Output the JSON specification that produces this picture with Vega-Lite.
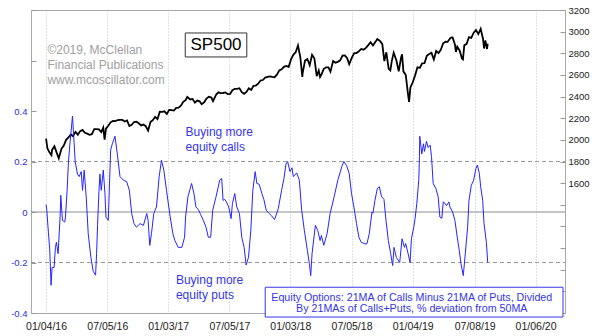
{
  "$schema": "https://vega.github.io/schema/vega-lite/v6.json",
  "width": 534,
  "height": 303,
  "autosize": "none",
  "padding": {"left": 31, "top": 10, "right": 35, "bottom": 23},
  "background": "white",
  "config": {
    "view": {"stroke": "#a8a8a8", "strokeWidth": 1},
    "font": "Liberation Sans",
    "axis": {"labelFont": "Liberation Sans", "titleFont": "Liberation Sans"}
  },
  "encoding": {
    "x": {
      "field": "d",
      "type": "temporal",
      "scale": {"type": "utc", "domain": [{"year": 2015, "month": 11, "date": 20, "utc": true}, {"year": 2020, "month": 4, "date": 3, "utc": true}], "nice": false},
      "axis": {
        "title": null,
        "values": [
          {"year": 2016, "month": 1, "date": 4, "utc": true},
          {"year": 2016, "month": 7, "date": 5, "utc": true},
          {"year": 2017, "month": 1, "date": 3, "utc": true},
          {"year": 2017, "month": 7, "date": 5, "utc": true},
          {"year": 2018, "month": 1, "date": 3, "utc": true},
          {"year": 2018, "month": 7, "date": 5, "utc": true},
          {"year": 2019, "month": 1, "date": 4, "utc": true},
          {"year": 2019, "month": 7, "date": 8, "utc": true},
          {"year": 2020, "month": 1, "date": 6, "utc": true}
        ],
        "format": "%m/%d/%y",
        "grid": true,
        "gridDash": [1, 2],
        "gridColor": "#c4c4c4",
        "ticks": false,
        "domain": false,
        "labelFontSize": 10.5,
        "labelColor": "#1a1a1a",
        "labelPadding": 8,
        "labelFlush": false
      }
    }
  },
  "layer": [
    {
      "data": {"values": [
        {"d":"2016-01-04","s":2012},{"d":"2016-01-08","s":1922},{"d":"2016-01-15","s":1880},{"d":"2016-01-20","s":1859},{"d":"2016-01-22","s":1907},{"d":"2016-01-29","s":1940},{"d":"2016-02-05","s":1880},{"d":"2016-02-11","s":1829},{"d":"2016-02-19","s":1917},{"d":"2016-02-26","s":1948},{"d":"2016-03-04","s":2000},{"d":"2016-03-11","s":2022},{"d":"2016-03-18","s":2050},{"d":"2016-03-24","s":2035},{"d":"2016-04-01","s":2073},{"d":"2016-04-08","s":2048},{"d":"2016-04-15","s":2081},{"d":"2016-04-22","s":2092},{"d":"2016-04-29","s":2065},{"d":"2016-05-06","s":2057},{"d":"2016-05-13","s":2047},{"d":"2016-05-20","s":2052},{"d":"2016-05-27","s":2099},{"d":"2016-06-03","s":2099},{"d":"2016-06-10","s":2096},{"d":"2016-06-17","s":2071},{"d":"2016-06-23","s":2113},{"d":"2016-06-27","s":2001},{"d":"2016-07-01","s":2103},{"d":"2016-07-08","s":2130},{"d":"2016-07-15","s":2162},{"d":"2016-07-22","s":2175},{"d":"2016-07-29","s":2173},{"d":"2016-08-05","s":2183},{"d":"2016-08-12","s":2184},{"d":"2016-08-19","s":2184},{"d":"2016-08-26","s":2169},{"d":"2016-09-02","s":2180},{"d":"2016-09-09","s":2128},{"d":"2016-09-16","s":2139},{"d":"2016-09-23","s":2165},{"d":"2016-09-30","s":2168},{"d":"2016-10-07","s":2153},{"d":"2016-10-14","s":2133},{"d":"2016-10-21","s":2141},{"d":"2016-10-28","s":2126},{"d":"2016-11-04","s":2085},{"d":"2016-11-11","s":2164},{"d":"2016-11-18","s":2182},{"d":"2016-11-25","s":2213},{"d":"2016-12-02","s":2192},{"d":"2016-12-09","s":2260},{"d":"2016-12-16","s":2258},{"d":"2016-12-23","s":2264},{"d":"2016-12-30","s":2239},
        {"d":"2017-01-06","s":2277},{"d":"2017-01-13","s":2275},{"d":"2017-01-20","s":2271},{"d":"2017-01-27","s":2295},{"d":"2017-02-03","s":2297},{"d":"2017-02-10","s":2316},{"d":"2017-02-17","s":2351},{"d":"2017-02-24","s":2367},{"d":"2017-03-01","s":2396},{"d":"2017-03-10","s":2373},{"d":"2017-03-17","s":2378},{"d":"2017-03-24","s":2344},{"d":"2017-03-31","s":2363},{"d":"2017-04-07","s":2356},{"d":"2017-04-13","s":2329},{"d":"2017-04-21","s":2349},{"d":"2017-04-28","s":2384},{"d":"2017-05-05","s":2399},{"d":"2017-05-12","s":2391},{"d":"2017-05-17","s":2357},{"d":"2017-05-26","s":2416},{"d":"2017-06-02","s":2439},{"d":"2017-06-09","s":2432},{"d":"2017-06-16","s":2433},{"d":"2017-06-23","s":2438},{"d":"2017-06-30","s":2423},{"d":"2017-07-07","s":2425},{"d":"2017-07-14","s":2459},{"d":"2017-07-21","s":2472},{"d":"2017-07-28","s":2472},{"d":"2017-08-04","s":2477},{"d":"2017-08-11","s":2441},{"d":"2017-08-18","s":2426},{"d":"2017-08-25","s":2443},{"d":"2017-09-01","s":2477},{"d":"2017-09-08","s":2461},{"d":"2017-09-15","s":2500},{"d":"2017-09-22","s":2502},{"d":"2017-09-29","s":2519},{"d":"2017-10-06","s":2549},{"d":"2017-10-13","s":2553},{"d":"2017-10-20","s":2575},{"d":"2017-10-27","s":2581},{"d":"2017-11-03","s":2587},{"d":"2017-11-10","s":2582},{"d":"2017-11-17","s":2579},{"d":"2017-11-24","s":2602},{"d":"2017-12-01","s":2642},{"d":"2017-12-08","s":2652},{"d":"2017-12-15","s":2675},{"d":"2017-12-22","s":2683},{"d":"2017-12-29","s":2674},
        {"d":"2018-01-05","s":2743},{"d":"2018-01-12","s":2786},{"d":"2018-01-19","s":2810},{"d":"2018-01-26","s":2873},{"d":"2018-02-02","s":2762},{"d":"2018-02-08","s":2581},{"d":"2018-02-09","s":2620},{"d":"2018-02-16","s":2732},{"d":"2018-02-23","s":2747},{"d":"2018-03-02","s":2691},{"d":"2018-03-09","s":2786},{"d":"2018-03-16","s":2752},{"d":"2018-03-23","s":2588},{"d":"2018-03-29","s":2641},{"d":"2018-04-02","s":2582},{"d":"2018-04-06","s":2604},{"d":"2018-04-13","s":2656},{"d":"2018-04-20","s":2670},{"d":"2018-04-27","s":2670},{"d":"2018-05-03","s":2630},{"d":"2018-05-11","s":2728},{"d":"2018-05-18","s":2713},{"d":"2018-05-25","s":2721},{"d":"2018-06-01","s":2735},{"d":"2018-06-08","s":2779},{"d":"2018-06-15","s":2780},{"d":"2018-06-22","s":2755},{"d":"2018-06-28","s":2699},{"d":"2018-07-06","s":2760},{"d":"2018-07-13","s":2801},{"d":"2018-07-20","s":2802},{"d":"2018-07-27","s":2819},{"d":"2018-08-03","s":2840},{"d":"2018-08-10","s":2833},{"d":"2018-08-17","s":2850},{"d":"2018-08-24","s":2875},{"d":"2018-08-31","s":2902},{"d":"2018-09-07","s":2872},{"d":"2018-09-14","s":2905},{"d":"2018-09-20","s":2931},{"d":"2018-09-28","s":2914},{"d":"2018-10-05","s":2885},{"d":"2018-10-11","s":2728},{"d":"2018-10-17","s":2809},{"d":"2018-10-24","s":2656},{"d":"2018-10-29","s":2641},{"d":"2018-11-02","s":2723},{"d":"2018-11-08","s":2806},{"d":"2018-11-16","s":2736},{"d":"2018-11-23","s":2633},{"d":"2018-11-30","s":2760},{"d":"2018-12-03","s":2790},{"d":"2018-12-07","s":2633},{"d":"2018-12-14","s":2600},{"d":"2018-12-21","s":2417},{"d":"2018-12-24","s":2351},{"d":"2018-12-28","s":2486},
        {"d":"2019-01-04","s":2532},{"d":"2019-01-11","s":2596},{"d":"2019-01-18","s":2671},{"d":"2019-01-25","s":2665},{"d":"2019-02-01","s":2707},{"d":"2019-02-08","s":2708},{"d":"2019-02-15","s":2776},{"d":"2019-02-22","s":2793},{"d":"2019-03-01","s":2804},{"d":"2019-03-08","s":2743},{"d":"2019-03-15","s":2822},{"d":"2019-03-22","s":2801},{"d":"2019-03-29","s":2834},{"d":"2019-04-05","s":2893},{"d":"2019-04-12","s":2907},{"d":"2019-04-18","s":2905},{"d":"2019-04-26","s":2940},{"d":"2019-04-30","s":2946},{"d":"2019-05-03","s":2946},{"d":"2019-05-10","s":2881},{"d":"2019-05-13","s":2812},{"d":"2019-05-17","s":2860},{"d":"2019-05-24","s":2826},{"d":"2019-05-31","s":2752},{"d":"2019-06-03","s":2744},{"d":"2019-06-07","s":2873},{"d":"2019-06-14","s":2887},{"d":"2019-06-21","s":2950},{"d":"2019-06-28","s":2942},{"d":"2019-07-05","s":2990},{"d":"2019-07-12","s":3014},{"d":"2019-07-19","s":2977},{"d":"2019-07-26","s":3026},{"d":"2019-08-02","s":2932},{"d":"2019-08-05","s":2844},{"d":"2019-08-09","s":2919},{"d":"2019-08-14","s":2840},{"d":"2019-08-16","s":2889}
      ]},
      "mark": {"type": "line", "color": "#000000", "strokeWidth": 1.8},
      "encoding": {
        "y": {
          "field": "s",
          "type": "quantitative",
          "scale": {"domain": [400, 3200], "nice": false, "zero": false},
          "axis": {
            "orient": "right",
            "title": null,
            "values": [400, 600, 800, 1000, 1200, 1400, 1600, 1800, 2000, 2200, 2400, 2600, 2800, 3000, 3200],
            "format": "d",
            "labelExpr": "datum.value >= 1600 ? datum.label : ''",
            "grid": false,
            "domain": false,
            "tickSize": -5,
            "tickColor": "#999999",
            "labelFontSize": 9.5,
            "labelColor": "#1a1a1a",
            "labelPadding": 8
          }
        }
      }
    },
    {
      "encoding": {
        "y": {
          "field": "v",
          "type": "quantitative",
          "scale": {"domain": [-0.4, 0.8], "nice": false, "zero": false},
          "axis": {
            "orient": "left",
            "title": null,
            "values": [-0.4, -0.2, 0, 0.2, 0.4, 0.6, 0.8],
            "labelExpr": "datum.value > 0.45 ? '' : (abs(datum.value) < 0.01 ? '0' : (datum.value < 0 ? '-' : '') + format(abs(datum.value), '.1f'))",
            "grid": false,
            "domain": false,
            "tickSize": -5,
            "tickColor": "#999999",
            "labelFontSize": 9.5,
            "labelColor": "#2b2bdd",
            "labelPadding": 9
          }
        }
      },
      "layer": [
        {
          "data": {"values": [{"d":"2015-11-20","d2":"2020-04-03","v":0.2},{"d":"2015-11-20","d2":"2020-04-03","v":-0.2}]},
          "mark": {"type": "rule", "color": "#9a9a9a", "strokeDash": [4, 3], "strokeWidth": 1},
          "encoding": {"x2": {"field": "d2"}}
        },
        {
          "data": {"values": [{"d":"2015-11-20","d2":"2020-04-03","v":0}]},
          "mark": {"type": "rule", "color": "#8c8c8c", "strokeWidth": 1},
          "encoding": {"x2": {"field": "d2"}}
        },
        {
          "data": {"values": [
            {"d":"2016-01-04","v":0.03},{"d":"2016-01-06","v":0.01},{"d":"2016-01-11","v":-0.08},{"d":"2016-01-15","v":-0.15},{"d":"2016-01-19","v":-0.29},{"d":"2016-01-22","v":-0.22},{"d":"2016-01-28","v":-0.22},{"d":"2016-02-01","v":-0.14},{"d":"2016-02-04","v":-0.12},{"d":"2016-02-09","v":-0.165},{"d":"2016-02-15","v":-0.02},{"d":"2016-02-17","v":0.066},{"d":"2016-02-22","v":-0.033},{"d":"2016-02-29","v":-0.04},{"d":"2016-03-02","v":-0.02},{"d":"2016-03-07","v":0.086},{"d":"2016-03-11","v":0.2},{"d":"2016-03-16","v":0.28},{"d":"2016-03-23","v":0.38},{"d":"2016-03-28","v":0.27},{"d":"2016-03-31","v":0.2},{"d":"2016-04-07","v":0.15},{"d":"2016-04-12","v":0.14},{"d":"2016-04-18","v":0.16},{"d":"2016-04-22","v":0.086},{"d":"2016-04-27","v":0.166},{"d":"2016-05-03","v":0.06},{"d":"2016-05-09","v":-0.085},{"d":"2016-05-17","v":-0.18},{"d":"2016-05-24","v":-0.235},{"d":"2016-05-31","v":-0.25},{"d":"2016-06-03","v":-0.165},{"d":"2016-06-06","v":-0.05},{"d":"2016-06-10","v":0.08},{"d":"2016-06-13","v":0.15},{"d":"2016-06-17","v":0.086},{"d":"2016-06-23","v":0.166},{"d":"2016-06-28","v":0.074},{"d":"2016-07-01","v":-0.02},{"d":"2016-07-08","v":-0.033},{"d":"2016-07-15","v":0.245},{"d":"2016-07-20","v":0.27},{"d":"2016-07-28","v":0.3},{"d":"2016-08-04","v":0.23},{"d":"2016-08-12","v":0.14},{"d":"2016-08-22","v":0.126},{"d":"2016-09-01","v":0.12},{"d":"2016-09-09","v":0.086},{"d":"2016-09-16","v":-0.006},{"d":"2016-09-23","v":-0.046},{"d":"2016-09-30","v":-0.06},{"d":"2016-10-11","v":-0.046},{"d":"2016-10-21","v":-0.053},{"d":"2016-10-31","v":-0.006},{"d":"2016-11-04","v":-0.033},{"d":"2016-11-09","v":-0.132},{"d":"2016-11-14","v":-0.086},{"d":"2016-11-21","v":-0.006},{"d":"2016-11-29","v":0.02},{"d":"2016-12-07","v":0.14},{"d":"2016-12-14","v":0.205},{"d":"2016-12-21","v":0.166},{"d":"2016-12-29","v":0.086},
            {"d":"2017-01-09","v":-0.02},{"d":"2017-01-17","v":-0.086},{"d":"2017-01-23","v":-0.113},{"d":"2017-02-02","v":-0.14},{"d":"2017-02-13","v":-0.14},{"d":"2017-02-21","v":-0.1},{"d":"2017-02-24","v":-0.02},{"d":"2017-03-03","v":0.06},{"d":"2017-03-14","v":0.113},{"d":"2017-03-21","v":0.073},{"d":"2017-03-27","v":0.02},{"d":"2017-04-03","v":0.01},{"d":"2017-04-10","v":-0.01},{"d":"2017-04-18","v":-0.033},{"d":"2017-04-26","v":-0.06},{"d":"2017-05-03","v":-0.1},{"d":"2017-05-10","v":-0.1},{"d":"2017-05-16","v":0.007},{"d":"2017-05-26","v":0.06},{"d":"2017-06-06","v":0.126},{"d":"2017-06-12","v":0.133},{"d":"2017-06-16","v":0.046},{"d":"2017-06-21","v":0.05},{"d":"2017-06-26","v":0.04},{"d":"2017-07-03","v":0.02},{"d":"2017-07-10","v":-0.026},{"d":"2017-07-14","v":0.033},{"d":"2017-07-21","v":0.073},{"d":"2017-07-27","v":0.02},{"d":"2017-08-04","v":-0.006},{"d":"2017-08-11","v":-0.1},{"d":"2017-08-18","v":-0.14},{"d":"2017-08-24","v":-0.21},{"d":"2017-08-31","v":-0.18},{"d":"2017-09-07","v":-0.073},{"d":"2017-09-13","v":0.086},{"d":"2017-09-20","v":0.16},{"d":"2017-09-25","v":0.113},{"d":"2017-10-02","v":0.11},{"d":"2017-10-10","v":0.073},{"d":"2017-10-16","v":0.05},{"d":"2017-10-23","v":0.007},{"d":"2017-11-01","v":-0.006},{"d":"2017-11-08","v":-0.015},{"d":"2017-11-17","v":-0.03},{"d":"2017-11-28","v":0.013},{"d":"2017-12-08","v":0.086},{"d":"2017-12-15","v":0.133},{"d":"2017-12-21","v":0.19},{"d":"2017-12-26","v":0.2},
            {"d":"2018-01-02","v":0.16},{"d":"2018-01-08","v":0.175},{"d":"2018-01-12","v":0.14},{"d":"2018-01-22","v":0.155},{"d":"2018-01-30","v":0.126},{"d":"2018-02-06","v":0.007},{"d":"2018-02-14","v":-0.073},{"d":"2018-02-23","v":-0.152},{"d":"2018-03-01","v":-0.205},{"d":"2018-03-05","v":-0.252},{"d":"2018-03-09","v":-0.165},{"d":"2018-03-19","v":-0.053},{"d":"2018-03-26","v":-0.073},{"d":"2018-04-02","v":-0.113},{"d":"2018-04-06","v":-0.093},{"d":"2018-04-13","v":-0.132},{"d":"2018-04-23","v":-0.086},{"d":"2018-05-02","v":-0.006},{"d":"2018-05-14","v":0.06},{"d":"2018-05-25","v":0.126},{"d":"2018-06-06","v":0.18},{"d":"2018-06-12","v":0.2},{"d":"2018-06-20","v":0.185},{"d":"2018-06-28","v":0.153},{"d":"2018-07-05","v":0.073},{"d":"2018-07-12","v":0.02},{"d":"2018-07-20","v":-0.046},{"d":"2018-07-27","v":-0.1},{"d":"2018-08-03","v":-0.12},{"d":"2018-08-14","v":-0.126},{"d":"2018-08-20","v":-0.126},{"d":"2018-08-27","v":-0.086},{"d":"2018-09-04","v":0},{"d":"2018-09-07","v":-0.005},{"d":"2018-09-13","v":0.046},{"d":"2018-09-20","v":0.093},{"d":"2018-09-26","v":0.1},{"d":"2018-10-03","v":0.06},{"d":"2018-10-10","v":0.05},{"d":"2018-10-16","v":-0.033},{"d":"2018-10-23","v":-0.113},{"d":"2018-10-30","v":-0.165},{"d":"2018-11-05","v":-0.212},{"d":"2018-11-09","v":-0.14},{"d":"2018-11-16","v":-0.18},{"d":"2018-11-26","v":-0.2},{"d":"2018-12-03","v":-0.106},{"d":"2018-12-10","v":-0.14},{"d":"2018-12-14","v":-0.125},{"d":"2018-12-21","v":-0.165},{"d":"2018-12-27","v":-0.2},{"d":"2018-12-31","v":-0.106},
            {"d":"2019-01-07","v":-0.06},{"d":"2019-01-11","v":-0.026},{"d":"2019-01-16","v":0.033},{"d":"2019-01-22","v":0.126},{"d":"2019-01-24","v":0.22},{"d":"2019-01-25","v":0.3},{"d":"2019-01-31","v":0.23},{"d":"2019-02-05","v":0.27},{"d":"2019-02-08","v":0.24},{"d":"2019-02-14","v":0.28},{"d":"2019-02-19","v":0.255},{"d":"2019-02-25","v":0.265},{"d":"2019-03-01","v":0.22},{"d":"2019-03-06","v":0.113},{"d":"2019-03-14","v":0.093},{"d":"2019-03-21","v":0.06},{"d":"2019-03-26","v":-0.02},{"d":"2019-04-01","v":-0.025},{"d":"2019-04-05","v":0.04},{"d":"2019-04-10","v":0.035},{"d":"2019-04-15","v":0.025},{"d":"2019-04-22","v":0.04},{"d":"2019-04-25","v":0.02},{"d":"2019-05-03","v":0},{"d":"2019-05-10","v":-0.033},{"d":"2019-05-17","v":-0.1},{"d":"2019-05-23","v":-0.152},{"d":"2019-05-28","v":-0.205},{"d":"2019-06-04","v":-0.252},{"d":"2019-06-10","v":-0.165},{"d":"2019-06-17","v":-0.06},{"d":"2019-06-21","v":0.046},{"d":"2019-06-28","v":0.106},{"d":"2019-07-05","v":0.126},{"d":"2019-07-12","v":0.173},{"d":"2019-07-16","v":0.186},{"d":"2019-07-22","v":0.153},{"d":"2019-07-26","v":0.1},{"d":"2019-08-01","v":0.046},{"d":"2019-08-05","v":-0.046},{"d":"2019-08-12","v":-0.12},{"d":"2019-08-16","v":-0.2}
          ]},
          "mark": {"type": "line", "color": "#2424ff", "strokeWidth": 1}
        },
        {
          "data": {"values": [{"d":"2017-02-23","d2":"2017-08-26","v":0.709,"v2":0.614}]},
          "mark": {"type": "rect", "fill": "white", "stroke": "#333333", "strokeWidth": 1},
          "encoding": {"x2": {"field": "d2"}, "y2": {"field": "v2"}}
        },
        {
          "data": {"values": [{"d":"2017-05-26","v":0.6616,"t":"SP500"}]},
          "mark": {"type": "text", "font": "Liberation Sans", "fontSize": 17, "color": "#000000", "align": "center", "baseline": "middle"},
          "encoding": {"text": {"field": "t"}}
        },
        {
          "data": {"values": [{"d":"2016-01-08","v":0.627,"t":"©2019, McClellan\nFinancial Publications\nwww.mcoscillator.com"}]},
          "mark": {"type": "text", "font": "Liberation Sans", "fontSize": 12, "color": "#a0a0a0", "align": "left", "baseline": "alphabetic", "lineBreak": "\n", "lineHeight": 15.3},
          "encoding": {"text": {"field": "t"}}
        },
        {
          "data": {"values": [
            {"d":"2017-02-24","v":0.3,"t":"Buying more\nequity calls"},
            {"d":"2017-01-26","v":-0.285,"t":"Buying more\nequity puts"}
          ]},
          "mark": {"type": "text", "font": "Liberation Sans", "fontSize": 12, "color": "#3535ee", "align": "left", "baseline": "alphabetic", "lineBreak": "\n", "lineHeight": 14.8},
          "encoding": {"text": {"field": "t"}}
        },
        {
          "data": {"values": [{"d":"2017-10-20","d2":"2020-03-28","v":-0.298,"v2":-0.416}]},
          "mark": {"type": "rect", "fill": "white", "stroke": "#3535ee", "strokeWidth": 1},
          "encoding": {"x2": {"field": "d2"}, "y2": {"field": "v2"}}
        },
        {
          "data": {"values": [{"d":"2019-01-01","v":-0.352,"t":"Equity Options: 21MA of Calls Minus 21MA of Puts, Divided\nBy 21MAs of Calls+Puts, % deviation from 50MA"}]},
          "mark": {"type": "text", "font": "Liberation Sans", "fontSize": 10.7, "color": "#3535ee", "align": "center", "baseline": "alphabetic", "lineBreak": "\n", "lineHeight": 11.5},
          "encoding": {"text": {"field": "t"}}
        }
      ]
    }
  ],
  "resolve": {"scale": {"y": "independent"}}
}
